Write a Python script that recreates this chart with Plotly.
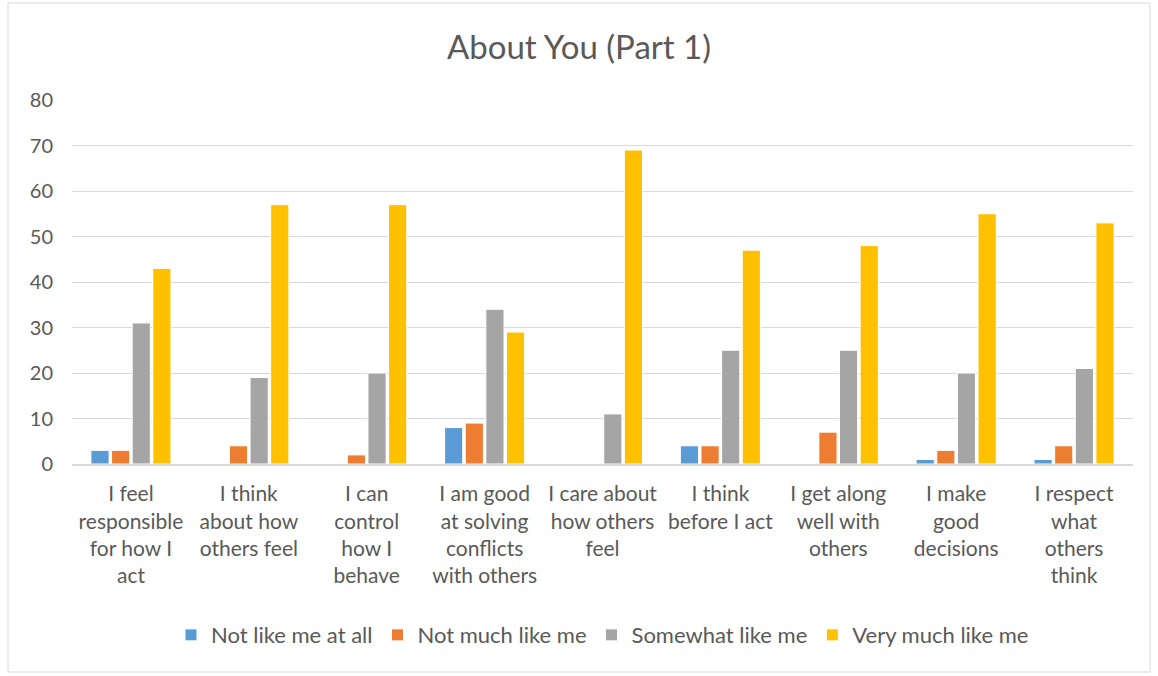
import plotly.graph_objects as go

categories = [
    "I feel<br>responsible<br>for how I<br>act",
    "I think<br>about how<br>others feel",
    "I can<br>control<br>how I<br>behave",
    "I am good<br>at solving<br>conflicts<br>with others",
    "I care about<br>how others<br>feel",
    "I think<br>before I act",
    "I get along<br>well with<br>others",
    "I make<br>good<br>decisions",
    "I respect<br>what<br>others<br>think",
]
not_like_me_at_all = [3, 0, 0, 8, 0, 4, 0, 1, 1]
not_much_like_me = [3, 4, 2, 9, 0, 4, 7, 3, 4]
somewhat_like_me = [31, 19, 20, 34, 11, 25, 25, 20, 21]
very_much_like_me = [43, 57, 57, 29, 69, 47, 48, 55, 53]

series = [
    ("Not like me at all", not_like_me_at_all, "#5B9BD5"),
    ("Not much like me", not_much_like_me, "#ED7D31"),
    ("Somewhat like me", somewhat_like_me, "#A5A5A5"),
    ("Very much like me", very_much_like_me, "#FFC000"),
]

font_family = "Lato, 'Open Sans', sans-serif"
text_color = "#595959"

fig = go.Figure()
for name, vals, color in series:
    fig.add_trace(go.Bar(
        name=name, x=categories, y=vals,
        marker=dict(color=color, line=dict(color="white", width=1)),
    ))

fig.update_layout(
    width=1158, height=676,
    margin=dict(l=72, r=25, t=100, b=212),
    paper_bgcolor="white", plot_bgcolor="white",
    barmode="group", bargap=0.3, bargroupgap=0.12,
    title=dict(text="About You (Part 1)", x=0.5, xanchor="center", y=0.93, yanchor="middle",
               font=dict(family=font_family, size=33, color=text_color)),
    font=dict(family=font_family, color=text_color, size=21),
    xaxis=dict(showgrid=False, showline=True, linecolor="#D9D9D9", linewidth=2,
               ticks="", tickfont=dict(size=21, color=text_color), tickangle=0,
               ticklabelstandoff=10),
    yaxis=dict(range=[0, 80], dtick=10, showgrid=True, gridcolor="#D9D9D9", gridwidth=1,
               zeroline=False, showline=False, ticks="", ticklabelstandoff=18,
               tickfont=dict(size=20, color=text_color)),
    legend=dict(orientation="h", x=0.5, xanchor="center", y=-0.47, yanchor="middle",
                font=dict(size=22, color=text_color), itemwidth=30,
                traceorder="normal"),
    shapes=[dict(type="rect", xref="paper", yref="paper",
                 x0=(8 - 72) / 1061, x1=(1150 - 72) / 1061,
                 y0=(464 - 672) / 364, y1=(464 - 3) / 364,
                 line=dict(color="#D9D9D9", width=1), fillcolor="rgba(0,0,0,0)", layer="below")],
)

fig.write_html("out.html")
